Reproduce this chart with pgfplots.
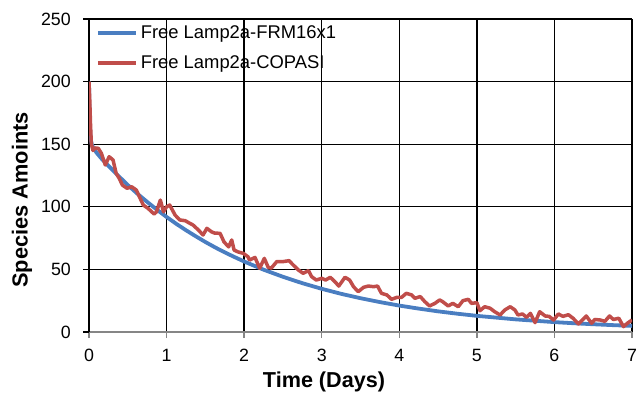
\documentclass[border=0pt]{standalone}
\usepackage{fontspec}
\setmainfont{Liberation Sans}
\usepackage{pgfplots}
\pgfplotsset{compat=1.18}
\definecolor{exblue}{RGB}{74,126,193}
\definecolor{exred}{RGB}{192,77,74}
\definecolor{axgray}{RGB}{134,134,134}
\begin{document}
\begin{tikzpicture}
\begin{axis}[name=ax, scale only axis, width=543bp, height=313bp,
 xmin=0, xmax=7, ymin=0, ymax=250,
 xtick={0,1,2,3,4,5,6,7}, ytick={0,50,100,150,200,250},
 axis lines=left, axis line style={-},
 x axis line style={axgray, line width=1.4bp},
 y axis line style={black, line width=1.3bp},
 grid=major, major grid style={black, line width=1.3bp},
 tick align=outside, major tick length=6bp,
 xtick style={axgray, line width=1.3bp},
 ytick style={black, line width=1.3bp},
 /pgf/number format/assume math mode=true,
 tick label style={font=\fontsize{17.8bp}{20bp}\selectfont, inner sep=0pt},
 xticklabel style={anchor=north, yshift=-11bp},
 yticklabel style={anchor=east, xshift=-12bp},
 xlabel={Time (Days)}, ylabel={Species Amoints},
 xlabel style={font=\bfseries\fontsize{21.6bp}{24bp}\selectfont, inner sep=0pt, at={(axis description cs:0.4328,-0.1597)}, anchor=center},
 ylabel style={font=\bfseries\fontsize{21.8bp}{24bp}\selectfont, inner sep=0pt, at={(axis description cs:-0.1234,0.4217)}, anchor=center},
 legend style={at={(axis description cs:0,1)}, anchor=north west, xshift=7bp, yshift=-7bp, draw=none, fill=none, inner sep=0pt, outer sep=0pt, row sep=15.5bp, column sep=3bp, nodes={inner sep=0pt}, font=\fontsize{18.4bp}{20bp}\selectfont},
 legend cell align=left,
 legend image code/.code={\draw[#1] (0bp,0bp) -- (38bp,0bp);},
]
\addplot[exblue, line width=3.8bp, line join=round] coordinates {
(0,200) (0.005,180) (0.01,167) (0.02,155) (0.035,150) (0.06,146.5) (0.1,143)
(0.175,137.5) (0.25,132.8) (0.375,124.9) (0.5,117.4) (0.625,110.4) (0.75,103.9)
(0.875,97.7) (1,91.9) (1.125,86.4) (1.25,81.3) (1.375,76.5) (1.5,71.9) (1.625,67.6) (1.75,63.6)
(1.875,59.9) (2,56.3) (2.25,49.8) (2.5,44.1) (2.75,39.0) (3,34.5) (3.25,30.5)
(3.5,27.0) (3.75,23.9) (4,21.1) (4.25,18.7) (4.5,16.5) (4.75,14.6) (5,12.9)
(5.25,11.5) (5.5,10.1) (5.75,9.0) (6,7.9) (6.25,7.0) (6.5,6.2) (6.75,5.5) (7,4.9)
};
\addlegendentry{Free Lamp2a-FRM16x1}
\addplot[exred, line width=3.5bp, line join=round] coordinates {
(0,200) (0.01,185) (0.02,165) (0.03,150.7) (0.05,145) (0.08,147) (0.12,146.7)
(0.16,142.7) (0.21,133.4) (0.26,140) (0.31,137.4) (0.35,126.7) (0.39,122.7)
(0.43,117.4) (0.49,114.8) (0.55,116) (0.61,113.4) (0.65,108) (0.70,101.4)
(0.76,98.8) (0.84,94.2) (0.87,96) (0.92,105.4) (0.96,96) (1.00,100) (1.04,101.4)
(1.11,93.4) (1.17,89.5) (1.24,88.9) (1.30,86.8) (1.34,85.5) (1.41,81.5)
(1.47,77.5) (1.52,82.8) (1.58,80) (1.62,79) (1.69,78.8) (1.74,72) (1.80,68)
(1.84,73.5) (1.87,65.5) (1.92,64) (1.99,62.8) (2.05,60) (2.07,57.5) (2.14,59.6)
(2.20,50.9) (2.26,58.8) (2.31,51.7) (2.35,51) (2.42,56.2) (2.50,56.2) (2.58,57)
(2.62,54.3) (2.70,49.5) (2.76,46.9) (2.83,49) (2.87,44.2) (2.93,41.5) (3.00,42.9)
(3.05,41.5) (3.11,43.7) (3.17,40.2) (3.22,36.7) (3.30,43.7) (3.36,41.5)
(3.41,36.2) (3.47,32.2) (3.54,35.7) (3.60,36.7) (3.67,36.2) (3.72,36.7)
(3.77,30.9) (3.84,29.6) (3.90,26.1) (3.97,27.7) (4.03,27.7) (4.09,30.9)
(4.16,29.6) (4.20,26.9) (4.27,28.3) (4.33,24.2) (4.39,20.8) (4.46,22.9)
(4.52,25.6) (4.56,24.2) (4.63,20.8) (4.69,22.9) (4.76,20.2) (4.82,25) (4.89,26.1)
(4.93,22.9) (5.00,23.4) (5.04,17) (5.10,20.2) (5.17,19) (5.23,16.2) (5.30,13.6)
(5.36,17.6) (5.43,20.2) (5.49,17.6) (5.53,13.6) (5.59,14.4) (5.64,11.7)
(5.69,14.9) (5.75,7.5) (5.81,16.2) (5.88,12.8) (5.93,12.5) (5.99,9.6) (6.05,14.4)
(6.11,12.5) (6.18,13.8) (6.24,11) (6.31,6.4) (6.36,9.6) (6.41,12.8) (6.48,7)
(6.52,10) (6.59,9.6) (6.65,8.5) (6.71,12.8) (6.76,10) (6.83,11) (6.89,4.3)
(6.94,7) (7.00,9.6)
};
\addlegendentry{Free Lamp2a-COPASI}
\end{axis}
\pgfresetboundingbox
\path[use as bounding box] ([shift={(-89bp,-60bp)}]ax.south west) rectangle ([shift={(5bp,19bp)}]ax.north east);
\end{tikzpicture}
\end{document}
